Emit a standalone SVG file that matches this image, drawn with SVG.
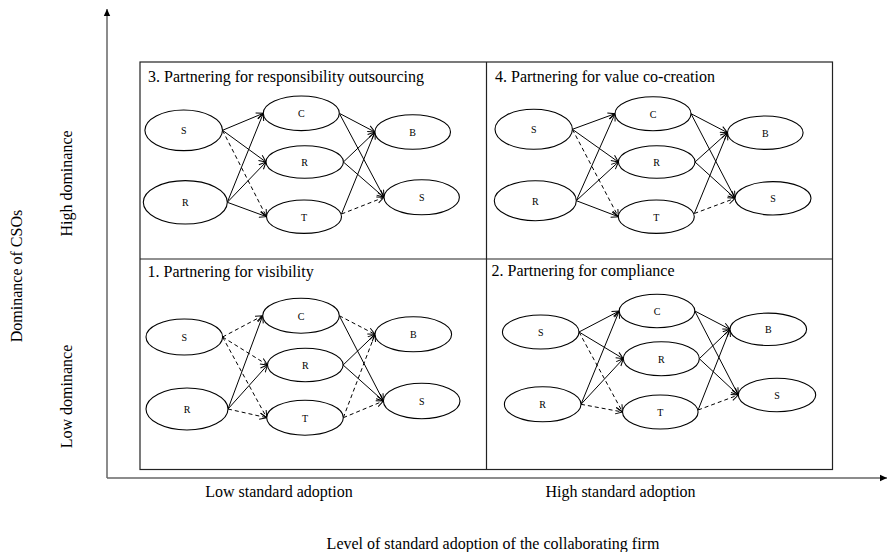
<svg xmlns="http://www.w3.org/2000/svg" width="889" height="552" viewBox="0 0 889 552">
<style>
text{font-family:"Liberation Serif","Times New Roman",serif;fill:#000}
.t{font-size:16px}
.n{font-size:10px;text-anchor:middle}
.ax{font-size:16px;text-anchor:middle}
ellipse{fill:#fff;stroke:#000;stroke-width:1.1}
.e{fill:none;stroke:#000;stroke-width:1;marker-end:url(#arr)}
.d{stroke-dasharray:4 3}
.axis{fill:none;stroke:#666;stroke-width:1.5}
.frame{fill:none;stroke:#222;stroke-width:1.2}
</style>
<defs>
<marker id="arr" markerWidth="9" markerHeight="9" refX="7.5" refY="4" orient="auto" markerUnits="userSpaceOnUse">
<path d="M0.5,0.8 L7.5,4 L0.5,7.2" fill="none" stroke="#000" stroke-width="1"/>
</marker>
<marker id="axarr" markerWidth="9" markerHeight="9" refX="7" refY="4" orient="auto" markerUnits="userSpaceOnUse">
<path d="M0,0.8 L7,4 L0,7.2 Z" fill="#000"/>
</marker>
</defs>
<rect width="889" height="552" fill="#fff"/>

<g id="axes">
<line class="axis" x1="107" y1="478" x2="107" y2="9" marker-end="url(#axarr)"/>
<line class="axis" x1="107" y1="478" x2="887" y2="478" marker-end="url(#axarr)"/>
<text class="ax" transform="translate(21.5,276) rotate(-90)">Dominance of CSOs</text>
<text class="ax" transform="translate(72,183.5) rotate(-90)">High dominance</text>
<text class="ax" transform="translate(72,396.5) rotate(-90)">Low dominance</text>
<text class="ax" x="279" y="497">Low standard adoption</text>
<text class="ax" x="620.5" y="497">High standard adoption</text>
<text class="ax" x="493" y="549">Level of standard adoption of the collaborating firm</text>
</g>

<g id="frame">
<rect class="frame" x="140" y="62" width="692.5" height="407.5"/>
<line class="frame" x1="486.5" y1="62" x2="486.5" y2="469.5"/>
<line class="frame" x1="140" y1="259" x2="832.5" y2="259"/>
<text class="t" x="148" y="82">3. Partnering for responsibility outsourcing</text>
<text class="t" x="495" y="82">4. Partnering for value co-creation</text>
<text class="t" x="147.5" y="277">1. Partnering for visibility</text>
<text class="t" x="491.5" y="276">2. Partnering for compliance</text>
</g>

<g id="connectors">
<!-- Quadrant 3 -->
<line class="e" x1="222.5" y1="130.3" x2="263.3" y2="113.3"/>
<line class="e" x1="222.5" y1="130.3" x2="266" y2="162"/>
<line class="e d" x1="222.5" y1="130.3" x2="266.5" y2="216.7"/>
<line class="e" x1="227.3" y1="202.3" x2="263.3" y2="113.3"/>
<line class="e" x1="227.3" y1="202.3" x2="266" y2="162"/>
<line class="e" x1="227.3" y1="202.3" x2="266.5" y2="216.7"/>
<line class="e" x1="339.3" y1="113.3" x2="374.9" y2="132"/>
<line class="e" x1="339.3" y1="113.3" x2="384" y2="197.3"/>
<line class="e" x1="343.4" y1="162" x2="374.9" y2="132"/>
<line class="e" x1="343.4" y1="162" x2="384" y2="197.3"/>
<line class="e" x1="341.5" y1="214" x2="374.9" y2="132"/>
<line class="e d" x1="341.5" y1="214" x2="384" y2="197.3"/>
<!-- Quadrant 4 -->
<line class="e" x1="572.4" y1="129.3" x2="615" y2="113.7"/>
<line class="e" x1="572.4" y1="129.3" x2="618.4" y2="162"/>
<line class="e d" x1="572.4" y1="129.3" x2="618.3" y2="216.7"/>
<line class="e" x1="576.3" y1="200.7" x2="615" y2="113.7"/>
<line class="e" x1="576.3" y1="200.7" x2="618.4" y2="162"/>
<line class="e" x1="576.3" y1="200.7" x2="618.3" y2="216.7"/>
<line class="e" x1="691" y1="113.7" x2="727.5" y2="132.7"/>
<line class="e" x1="691" y1="113.7" x2="735" y2="198.3"/>
<line class="e" x1="695" y1="162" x2="727.5" y2="132.7"/>
<line class="e" x1="695" y1="162" x2="735" y2="198.3"/>
<line class="e" x1="694.3" y1="213.5" x2="727.5" y2="132.7"/>
<line class="e d" x1="694.3" y1="213.5" x2="735" y2="198.3"/>
<!-- Quadrant 1 -->
<line class="e d" x1="222.6" y1="337" x2="262.7" y2="315.7"/>
<line class="e d" x1="222.6" y1="337" x2="267.5" y2="365"/>
<line class="e d" x1="222.6" y1="337" x2="266.7" y2="417.7"/>
<line class="e" x1="228" y1="409" x2="262.7" y2="315.7"/>
<line class="e" x1="228" y1="409" x2="267.5" y2="365"/>
<line class="e d" x1="228" y1="409" x2="266.7" y2="417.7"/>
<line class="e d" x1="339.3" y1="315.7" x2="375" y2="334.3"/>
<line class="e" x1="339.3" y1="315.7" x2="383.4" y2="401"/>
<line class="e" x1="343.1" y1="365" x2="375" y2="334.3"/>
<line class="e" x1="343.1" y1="365" x2="383.4" y2="401"/>
<line class="e d" x1="343.3" y1="417.7" x2="375" y2="334.3"/>
<line class="e d" x1="343.3" y1="417.7" x2="383.4" y2="401"/>
<!-- Quadrant 2 -->
<line class="e" x1="579" y1="332" x2="619.2" y2="311"/>
<line class="e" x1="579" y1="332" x2="623.3" y2="358.7"/>
<line class="e d" x1="579" y1="332" x2="622.5" y2="412"/>
<line class="e" x1="581" y1="404.3" x2="619.2" y2="311"/>
<line class="e" x1="581" y1="404.3" x2="623.3" y2="358.7"/>
<line class="e d" x1="581" y1="404.3" x2="622.5" y2="412"/>
<line class="e" x1="694.8" y1="311" x2="730" y2="329.3"/>
<line class="e" x1="694.8" y1="311" x2="738.3" y2="395"/>
<line class="e" x1="699.3" y1="358.7" x2="730" y2="329.3"/>
<line class="e" x1="699.3" y1="358.7" x2="738.3" y2="395"/>
<line class="e" x1="698.1" y1="410" x2="730" y2="329.3"/>
<line class="e d" x1="698.1" y1="410" x2="738.3" y2="395"/>
</g>

<!-- Quadrant 3 nodes -->
<g id="q3-S"><ellipse cx="183.7" cy="130.3" rx="38.8" ry="20.3"/><text class="n" x="183.7" y="134">S</text></g>
<g id="q3-R"><ellipse cx="185.3" cy="202.3" rx="42" ry="21.7"/><text class="n" x="185.3" y="206">R</text></g>
<g id="q3-C"><ellipse cx="301.3" cy="113.3" rx="38" ry="17.3"/><text class="n" x="301.3" y="117">C</text></g>
<g id="q3-Rm"><ellipse cx="304.7" cy="162" rx="38.7" ry="16.2"/><text class="n" x="304.7" y="165.5">R</text></g>
<g id="q3-T"><ellipse cx="304" cy="216.7" rx="37.5" ry="16.7"/><text class="n" x="304" y="220.5">T</text></g>
<g id="q3-B"><ellipse cx="412.7" cy="132" rx="37.8" ry="17.2"/><text class="n" x="412.7" y="135.5">B</text></g>
<g id="q3-S2"><ellipse cx="421.7" cy="197.3" rx="37.7" ry="17.5"/><text class="n" x="421.7" y="201">S</text></g>

<!-- Quadrant 4 nodes -->
<g id="q4-S"><ellipse cx="533.7" cy="129.3" rx="38.7" ry="20"/><text class="n" x="533.7" y="133">S</text></g>
<g id="q4-R"><ellipse cx="535.3" cy="200.7" rx="41" ry="20"/><text class="n" x="535.3" y="204.5">R</text></g>
<g id="q4-C"><ellipse cx="653" cy="113.7" rx="38" ry="17"/><text class="n" x="653" y="117.5">C</text></g>
<g id="q4-Rm"><ellipse cx="656.7" cy="162" rx="38.3" ry="16.2"/><text class="n" x="656.7" y="165.5">R</text></g>
<g id="q4-T"><ellipse cx="656.3" cy="216.7" rx="38" ry="16.7"/><text class="n" x="656.3" y="220.5">T</text></g>
<g id="q4-B"><ellipse cx="765.3" cy="132.7" rx="37.8" ry="16.7"/><text class="n" x="765.3" y="136.5">B</text></g>
<g id="q4-S2"><ellipse cx="773" cy="198.3" rx="38" ry="16.7"/><text class="n" x="773" y="202">S</text></g>

<!-- Quadrant 1 nodes -->
<g id="q1-S"><ellipse cx="184.3" cy="337" rx="38.3" ry="18"/><text class="n" x="184.3" y="340.5">S</text></g>
<g id="q1-R"><ellipse cx="187" cy="409" rx="41" ry="21"/><text class="n" x="187" y="412.5">R</text></g>
<g id="q1-C"><ellipse cx="301" cy="315.7" rx="38.3" ry="17.5"/><text class="n" x="301" y="319.5">C</text></g>
<g id="q1-Rm"><ellipse cx="305.3" cy="365" rx="37.8" ry="16.7"/><text class="n" x="305.3" y="368.5">R</text></g>
<g id="q1-T"><ellipse cx="305" cy="417.7" rx="38.3" ry="17.5"/><text class="n" x="305" y="421.5">T</text></g>
<g id="q1-B"><ellipse cx="413.3" cy="334.3" rx="38.3" ry="17.5"/><text class="n" x="413.3" y="338">B</text></g>
<g id="q1-S2"><ellipse cx="421.7" cy="401" rx="38.3" ry="17.8"/><text class="n" x="421.7" y="404.5">S</text></g>

<!-- Quadrant 2 nodes -->
<g id="q2-S"><ellipse cx="540.7" cy="332" rx="38.3" ry="17"/><text class="n" x="540.7" y="335.5">S</text></g>
<g id="q2-R"><ellipse cx="542.7" cy="404.3" rx="38.3" ry="17.5"/><text class="n" x="542.7" y="408">R</text></g>
<g id="q2-C"><ellipse cx="657" cy="311" rx="37.8" ry="16.7"/><text class="n" x="657" y="314.5">C</text></g>
<g id="q2-Rm"><ellipse cx="661.3" cy="358.7" rx="38" ry="17"/><text class="n" x="661.3" y="362.5">R</text></g>
<g id="q2-T"><ellipse cx="660.3" cy="412" rx="37.8" ry="17"/><text class="n" x="660.3" y="415.5">T</text></g>
<g id="q2-B"><ellipse cx="768.3" cy="329.3" rx="38.3" ry="16.2"/><text class="n" x="768.3" y="333">B</text></g>
<g id="q2-S2"><ellipse cx="777" cy="395" rx="38.7" ry="16.7"/><text class="n" x="777" y="398.5">S</text></g>
</svg>
